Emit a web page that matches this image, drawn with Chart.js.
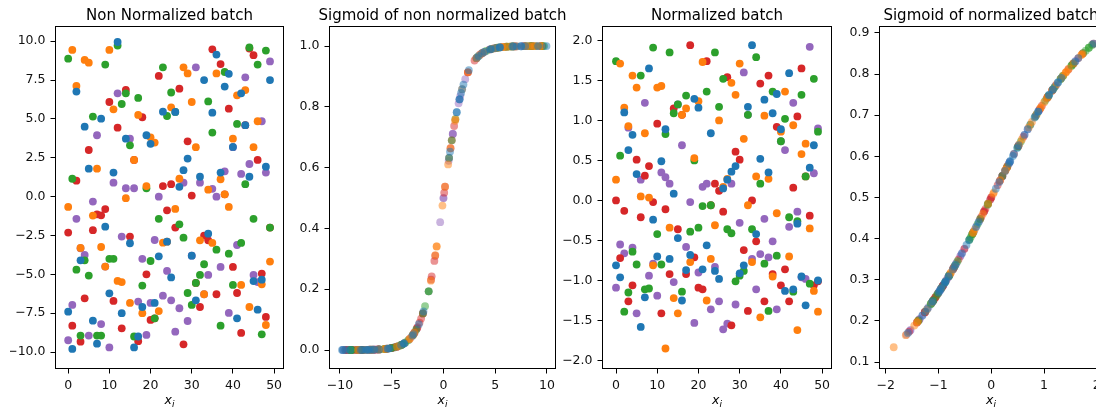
<!DOCTYPE html>
<html>
<head>
<meta charset="utf-8">
<script src="https://cdn.jsdelivr.net/npm/chart.js@4/dist/chart.umd.min.js"></script>
<style>
  html,body{margin:0;padding:0;background:#fff;}
  #wrap{position:relative;width:1096px;height:407px;overflow:hidden;background:#fff;}
  #wrap canvas{position:absolute;left:0;top:0;}
</style>
</head>
<body>
<div id="wrap">
  <canvas id="c1" width="1120" height="407"></canvas>
  <canvas id="c2" width="1120" height="407"></canvas>
  <canvas id="c3" width="1120" height="407"></canvas>
  <canvas id="c4" width="1120" height="407"></canvas>
</div>
<script>
// values; series index i is plotted at x = i (0..49)
const blueRaw   = [-7.4,-9.8,6.76,-4.1,4.5,1.8,-7.98,-9.46,5.02,-1.93, -6.22,1.55,9.95,-7.5,3.73,-3.0,-9.7,-9.0,-7.1,3.95, 3.4,-6.84,-3.84,5.47,-2.9,-5.2,5.45,0.63,1.7,2.45, -3.8,-6.67,1.28,7.5,-2.38,5.4,9.14,1.55,7.08,7.9, 3.2,-7.83,6.65,4.6,1.28,-5.43,-7.27,-5.34,1.93,7.5];
const orangeRaw = [-0.66,9.44,7.12,-3.3,8.8,8.62,-1.22,1.8,-3.24,-4.5, 9.44,5.62,-5.42,-5.5,-0.1,-6.84,2.36,5.26,-7.5,0.68, 3.82,3.48,-7.36,-2.96,-2.9,5.75,-0.79,1.15,8.32,7.93, 6.09,3.18,-2.81,-6.28,0.45,-2.98,7.93,1.12,0.15,-0.66, 3.73,6.52,-5.68,6.86,-7.1,3.18,4.85,-5.64,-8.26,-4.18];
const greenRaw  = [8.88,1.15,-4.7,-8.94,-4.1,-5.08,5.15,-8.94,-8.94,8.5, -4.0,-4.0,9.72,5.96,6.65,3.3,-9.0,6.35,-5.72,0.54, -4.14,-7.83,-1.43,8.32,5.19,6.7,5.45,-1.78,-2.64,-6.2, -6.97,-5.55,-5.04,-4.35,6.13,4.12,-3.41,-8.3,8.02,-3.67, -5.68,4.68,-2.98,0.8,9.6,-1.43,8.5,-8.86,9.4,-1.99];
const redRaw    = [-2.31,-8.3,1.03,-9.33,-6.54,3.0,-2.16,-1.14,-1.2,-0.8, 6.09,-6.71,4.44,-8.47,6.87,-2.57,2.36,-9.3,5.11,-5.0, -7.93,-7.83,7.77,0.68,-0.88,0.8,-1.99,6.95,-9.5,3.56, 0.07,-5.55,-7.1,-2.51,-2.81,9.48,-6.28,8.53,0.15,5.66, -4.52,-6.2,-8.77,4.6,9.53,9.1,2.36,-4.95,-7.74,-1.99];
const purpleRaw = [-9.24,-6.97,-1.43,-3.32,-3.75,-8.94,-0.32,3.95,-8.2,-4.5, -9.7,0.9,6.65,-2.57,0.54,3.73,0.54,-6.75,-4.0,-8.9, -6.84,-2.79,0.0,-6.37,-4.78,-6.67,-8.69,-7.18,0.9,-8.0, -3.8,8.32,0.9,-6.28,-5.04,0.5,0.0,-4.52,1.63,-7.48, 3.18,-3.11,1.46,7.68,2.1,-5.04,-5.5,4.85,1.55,8.7];

const blueNorm   = [-0.81,-0.96,1.1,0.63,0.82,0.33,-1.58,-1.21,1.65,-0.24, -0.7,0.49,0.89,-0.73,0.085,-0.47,-1.25,-0.87,-0.68,1.27, 1.16,-0.86,-0.56,0.84,-0.88,-0.98,0.15,0.26,0.36,0.43, -0.91,-0.81,1.17,1.94,-0.42,0.52,1.26,0.35,1.09,1.33, 0.89,-1.13,1.59,-1.11,-0.29,-0.95,-1.31,0.41,0.69,-1.0];
const orangeNorm = [0.26,1.71,1.16,0.93,1.56,1.41,0.05,0.84,0.036,-0.81, 1.41,1.43,-1.85,-0.34,-1.22,-1.41,1.07,1.15,-0.77,0.53, 1.24,1.73,-1.25,-0.73,-0.31,1.0,0.17,0.27,1.47,1.32, 1.71,0.77,-0.06,-0.77,0.3,-1.46,1.06,0.27,-0.95,-0.16, 0.86,1.36,-0.7,0.94,-1.62,0.58,0.71,-0.35,-1.13,-1.39];
const greenNorm  = [1.74,0.56,-1.39,-1.15,-0.64,-0.8,1.56,-1.11,-1.1,1.91, -0.42,-0.8,0.83,1.85,1.09,1.2,-1.14,1.31,-0.39,0.5, -0.34,-0.07,1.36,-0.06,1.85,1.17,1.52,-0.36,-0.41,-1.01, -0.94,-0.88,1.07,-0.36,1.79,0.21,-0.79,-1.38,1.36,-0.69, 0.74,1.02,-0.21,-1.14,-0.26,1.32,0.3,-1.04,1.52,0.86];
const redNorm    = [0.0,-0.72,-0.13,-1.26,-1.06,0.51,-0.21,0.31,0.43,-0.02, 0.96,-1.41,-0.11,-0.92,1.15,-0.36,1.07,-0.92,1.94,-0.71, -1.09,-1.11,1.74,-0.06,0.21,0.12,-0.14,1.54,-1.56,0.61, 0.51,-0.62,-1.38,0.0,-0.51,1.46,-1.26,1.56,-0.92,0.92, -1.06,-0.86,-1.26,0.16,1.05,1.65,0.3,-0.19,-1.06,-1.01];
const purpleNorm = [-1.09,-0.55,-0.66,0.91,-0.59,-1.41,0.26,1.22,-0.94,-0.79, -1.19,0.35,0.29,0.21,-1.02,1.2,0.69,-0.58,-0.02,-1.53, -0.9,0.17,0.21,-1.36,-0.83,-1.26,-1.61,-1.54,0.21,-1.3, -0.28,1.6,1.07,-0.73,-1.11,-0.67,-0.23,-0.71,-0.51,-1.36, 0.74,0.63,-0.33,1.22,-0.14,-0.96,-0.98,1.92,0.34,0.9];

const titles = ["Non Normalized batch","Sigmoid of non normalized batch","Normalized batch","Sigmoid of normalized batch"];
const idxTicks    = [0,10,20,30,40,50];
const rawTicks    = [-10,-7.5,-5,-2.5,0,2.5,5,7.5,10];
const sigRawX     = [-10,-5,0,5,10];
const sigTicks1   = [0,0.2,0.4,0.6,0.8,1.0];
const normTicks   = [-2,-1.5,-1,-0.5,0,0.5,1,1.5,2];
const sigNormX    = [-2,-1,0,1,2];
const sigTicks2   = [0.1,0.2,0.3,0.4,0.5,0.6,0.7,0.8,0.9];

const COLORS = ["#1f77b4","#ff7f0e","#2ca02c","#d62728","#9467bd"];
const FONT = '"DejaVu Sans", "Liberation Sans", sans-serif';

function rgba(hex,a){ const n=parseInt(hex.slice(1),16); return `rgba(${n>>16},${(n>>8)&255},${n&255},${a})`; }
const sigmoid = v => 1/(1+Math.exp(-v));
const byIndex = arr => arr.map((v,i)=>({x:i,y:v}));
const bySig = arr => arr.map(v=>({x:v,y:sigmoid(v)}));
const fmt = d => v => Number(v).toFixed(d).replace("-","\u2212");

const rawSets  = [blueRaw,orangeRaw,greenRaw,redRaw,purpleRaw];
const normSets = [blueNorm,orangeNorm,greenNorm,redNorm,purpleNorm];

// frame (all four spines), title and x label like matplotlib
const frame = {
  id:"frame",
  afterDraw(chart, args, o){
    const {ctx, chartArea:a} = chart;
    ctx.save();
    ctx.strokeStyle = "#000"; ctx.lineWidth = 1;
    ctx.strokeRect(a.left+0.5, a.top+0.5, a.right-a.left-1, a.bottom-a.top-1);
    const cx = (a.left+a.right)/2;
    ctx.fillStyle = "#000";
    ctx.font = "15px "+FONT; ctx.textAlign = "center"; ctx.textBaseline = "alphabetic";
    ctx.fillText(o.title, cx, a.top-6.5);
    ctx.textAlign = "left";
    ctx.font = "italic 12.5px "+FONT;
    const wx = ctx.measureText("x").width;
    ctx.font = "italic 9px "+FONT;
    const wi = ctx.measureText("i").width;
    const x0 = cx-(wx+wi)/2;
    ctx.font = "italic 12.5px "+FONT; ctx.fillText("x", x0, 404);
    ctx.font = "italic 9px "+FONT; ctx.fillText("i", x0+wx, 406.5);
    ctx.restore();
  }
};

function axis(min, max, ticks, digits, afterFit){
  return {
    type:"linear", min:min, max:max,
    afterFit:afterFit,
    afterBuildTicks: s => { s.ticks = ticks.map(v=>({value:v})); },
    ticks:{callback:fmt(digits), autoSkip:false, maxRotation:0, padding:5,
      color:"#111", font:{family:FONT, size:12.5}},
    grid:{drawOnChartArea:false, drawTicks:true, tickLength:4.5, tickColor:"#000", tickWidth:1},
    border:{display:false}
  };
}

function panel(id, p){
  new Chart(document.getElementById(id), {
    type:"scatter",
    data:{datasets:p.sets.map((s,i)=>({
      data:s, backgroundColor:rgba(COLORS[i],p.alpha), borderColor:rgba(COLORS[i],p.alpha),
      pointRadius:3.9, pointHoverRadius:3.9, pointBorderWidth:0
    }))},
    options:{
      responsive:false, animation:false, events:[],
      layout:{padding:{top:26, bottom:0, left:p.L-45, right:1120-p.R}},
      plugins:{legend:{display:false}, tooltip:{enabled:false}, frame:{title:p.title}},
      scales:{
        x:axis(p.x[0],p.x[1],p.xt,p.xd, s=>{ s.height = 38; }),
        y:axis(p.y[0],p.y[1],p.yt,p.yd, s=>{ s.width = 45; })
      }
    },
    plugins:[frame]
  });
}

panel("c1",{title:titles[0], L:55,  R:284,  x:[-3.2,52.4],    y:[-11.09,10.98], xt:idxTicks, xd:0, yt:rawTicks,  yd:1, sets:rawSets.map(byIndex),  alpha:1});
panel("c2",{title:titles[1], L:329, R:556,  x:[-11.06,10.87], y:[-0.0625,1.066], xt:sigRawX,  xd:0, yt:sigTicks1, yd:1, sets:rawSets.map(bySig),    alpha:0.5});
panel("c3",{title:titles[2], L:602, R:832,  x:[-3.4,52.4],    y:[-2.106,2.18],  xt:idxTicks, xd:0, yt:normTicks, yd:1, sets:normSets.map(byIndex), alpha:1});
panel("c4",{title:titles[3], L:879, R:1103, x:[-2.129,2.118], y:[0.083,0.917],  xt:sigNormX, xd:0, yt:sigTicks2, yd:1, sets:normSets.map(bySig),   alpha:0.5});
</script>
</body>
</html>
